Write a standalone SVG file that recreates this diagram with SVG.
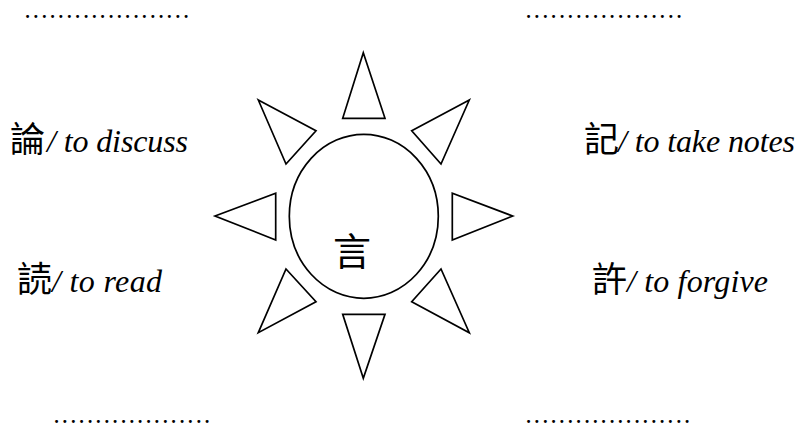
<svg xmlns="http://www.w3.org/2000/svg" width="800" height="428" viewBox="0 0 800 428">
<style>
.ray{fill:none;stroke:#000;stroke-width:1.7;stroke-linejoin:miter}
.cjk{font-family:"Noto Sans CJK TC","Noto Sans CJK JP",sans-serif;font-size:35px;fill:#000}
.lat{font-family:"Liberation Serif","Times New Roman",serif;font-style:italic;font-size:32px;fill:#000}
.dots{font-family:"Liberation Serif","Times New Roman",serif;font-style:italic;font-weight:bold;font-size:18px;fill:#000}
</style>
<rect width="800" height="428" fill="#fff"/>
<g id="sun">
<ellipse cx="363.8" cy="216.3" rx="74.5" ry="82" class="ray"/>
<polygon class="ray" points="363.3,52.7 342.7,118.3 385,118.3"/>
<polygon class="ray" points="363.3,378.3 342.7,314.3 385,314.3"/>
<polygon class="ray" points="215,216 275.7,193.3 275.7,240"/>
<polygon class="ray" points="512.7,216 452.3,193.3 452.3,240"/>
<polygon class="ray" points="258.3,100 316,130.7 286,164"/>
<polygon class="ray" points="469.3,100 411.7,130.7 441,164"/>
<polygon class="ray" points="286,269 316,301.7 258.3,332.7"/>
<polygon class="ray" points="441,269 411.7,301.7 469.3,332.7"/>
<text x="352" y="265" text-anchor="middle" style="font-family:'Noto Sans CJK TC','Noto Sans CJK JP',sans-serif;font-size:38px">言</text>
</g>
<g id="discuss">
<text class="cjk" x="10" y="152">論</text>
<text class="lat" x="47" y="152" textLength="141" lengthAdjust="spacing">/ to discuss</text>
</g>
<g id="notes">
<text class="cjk" x="584" y="152">記</text>
<text class="lat" x="618" y="152" textLength="177" lengthAdjust="spacing">/ to take notes</text>
</g>
<g id="read">
<text class="cjk" x="17" y="292">読</text>
<text class="lat" x="52" y="292" textLength="110" lengthAdjust="spacing">/ to read</text>
</g>
<g id="forgive">
<text class="cjk" x="592" y="292">許</text>
<text class="lat" x="627" y="292" textLength="141" lengthAdjust="spacing">/ to forgive</text>
</g>
<g id="blanks">
<text class="dots" x="26" y="18" textLength="163" lengthAdjust="spacing">....................</text>
<text class="dots" x="527" y="18" textLength="155" lengthAdjust="spacing">...................</text>
<text class="dots" x="55" y="423" textLength="155" lengthAdjust="spacing">...................</text>
<text class="dots" x="527" y="423" textLength="163" lengthAdjust="spacing">....................</text>
</g>
</svg>
